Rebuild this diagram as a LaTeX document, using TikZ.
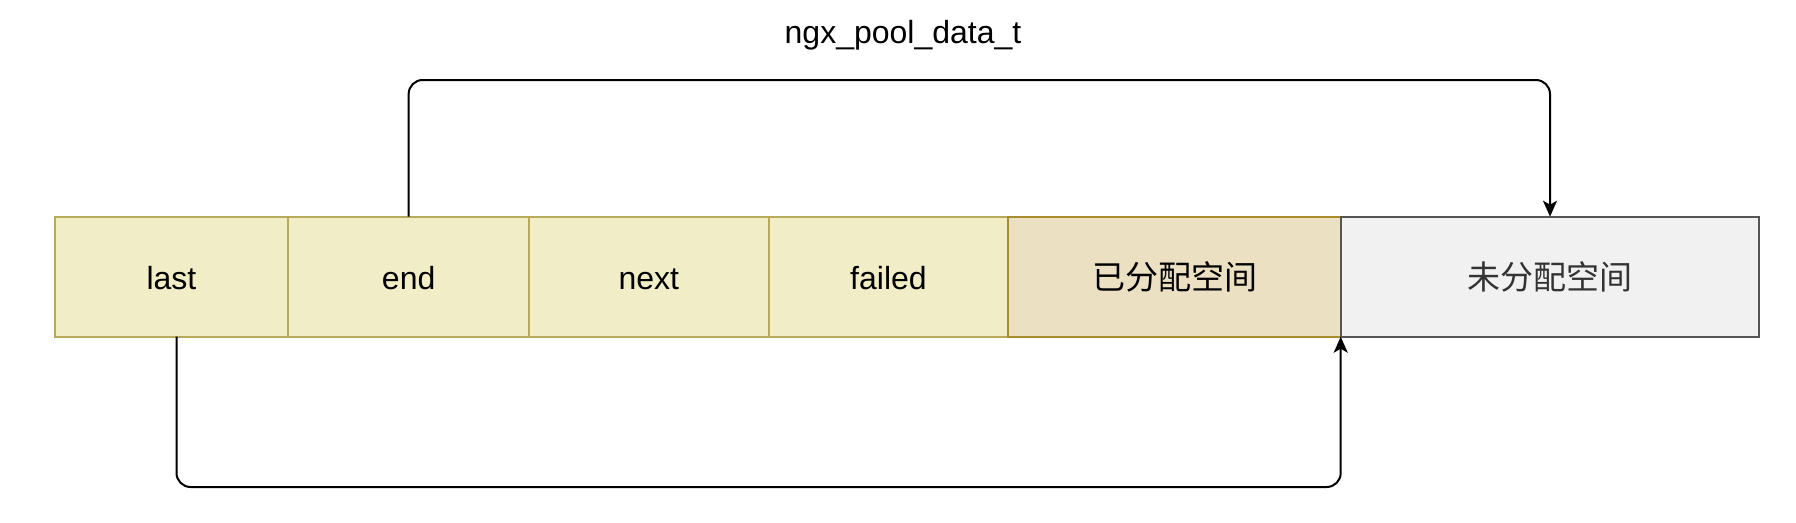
\documentclass[tikz,border=0pt]{standalone}
\usepackage{fontspec}
\setmainfont{Liberation Sans}
\newfontfamily\cjk{Noto Sans CJK SC}
\usepackage{tikz}
\usetikzlibrary{arrows.meta,positioning}
\definecolor{cream}{HTML}{F1EDC7}
\definecolor{olive}{HTML}{B7AA5A}
\definecolor{tan}{HTML}{ECE0C3}
\definecolor{bronze}{HTML}{A88D2C}
\definecolor{paper}{HTML}{F1F1F1}
\definecolor{slate}{HTML}{555555}
\definecolor{ink}{HTML}{333333}
\tikzset{
  field/.style={rectangle,draw=olive,fill=cream,line width=2pt,outer sep=0pt,
    minimum height=120pt,inner sep=0pt,text height=27.5pt,text depth=2.5pt,
    font=\fontsize{32}{38}\selectfont},
  used/.style={field,draw=bronze,fill=tan,font=\cjk\fontsize{33}{40}\selectfont},
  unused/.style={field,draw=slate,fill=paper,text=ink,font=\cjk\fontsize{33}{40}\selectfont},
  link/.style={-{Stealth[length=16pt,width=14pt,inset=4pt]},line width=2pt,draw=black,rounded corners=14pt}
}
\begin{document}
\begin{tikzpicture}[x=1pt,y=-1pt]
\useasboundingbox (0,0) rectangle (1796,522);
\node[field,minimum width=233.6pt,anchor=north west] (last) at (54.7,216.7) {last};
\node[field,minimum width=240.7pt,right=0pt of last] (end) {end};
\node[field,minimum width=239.6pt,right=0pt of end] (next) {next};
\node[field,minimum width=239.7pt,right=0pt of next] (failed) {failed};
\node[used,minimum width=332.4pt,right=0pt of failed] (alloc) {已分配空间};
\node[unused,minimum width=418.6pt,right=0pt of alloc] (free) {未分配空间};
\node[font=\fontsize{32}{38}\selectfont] (title) at (903,35) {ngx\_pool\_data\_t};
\coordinate (top) at (0,80);
\coordinate (bottom) at (0,487);
\coordinate (tail) at ([xshift=5pt]last.south);
\draw[link] (end.north) -- (end.north |- top) -- (free.north |- top) -- (free.north);
\draw[link] (tail) -- (tail |- bottom) -- (alloc.south east |- bottom) -- (alloc.south east);
\end{tikzpicture}
\end{document}
